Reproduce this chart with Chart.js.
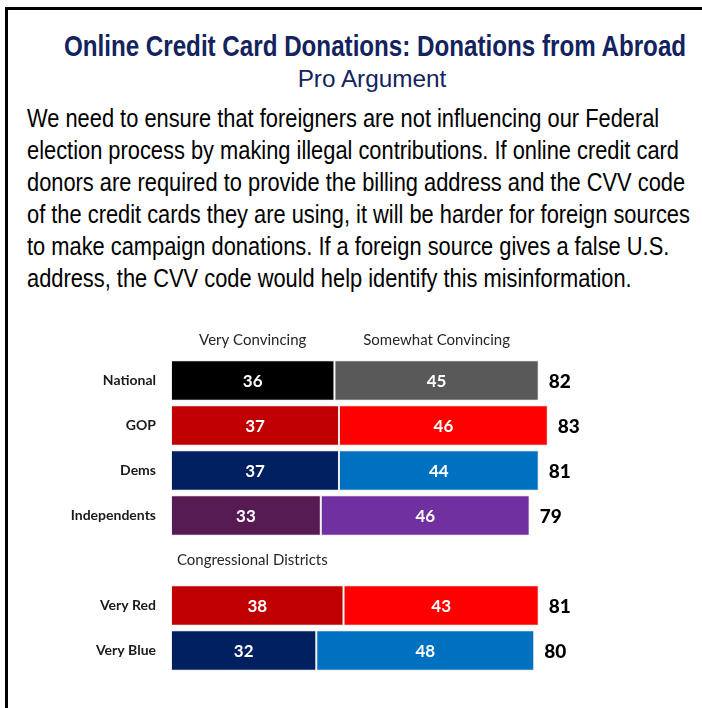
<!DOCTYPE html>
<html>
<head>
<meta charset="utf-8">
<script src="https://cdn.jsdelivr.net/npm/chart.js@4/dist/chart.umd.min.js"></script>
<style>
  html, body { margin: 0; padding: 0; background: #fff; }
  body { width: 702px; height: 708px; position: relative; overflow: hidden; }
  .frame { position: absolute; left: 5px; top: 7px; width: 720px; height: 720px;
           border-left: 3px solid #000; border-top: 3px solid #000; }
  .narrow { font-family: 'Liberation Sans', Arial, sans-serif; white-space: nowrap; display: inline-block; position: absolute; }
  .title { left: 375px; top: 29px; font-weight: bold; font-size: 30px; line-height: 34px; color: #12235f;
           transform-origin: center; }
  .sub { left: 372px; top: 65px; font-size: 24px; line-height: 28px; color: #12235f; transform-origin: center; }
  .para { left: 27px; top: 102px; font-size: 25.5px; line-height: 32px; color: #000; transform-origin: left top; }
  #wrap { position: absolute; left: 0; top: 300px; width: 702px; height: 408px; }
</style>
</head>
<body>
<div class="frame"></div>
<div class="narrow title" id="title">Online Credit Card Donations: Donations from Abroad</div>
<div class="narrow sub" id="sub">Pro Argument</div>
<div class="narrow para" id="para">We need to ensure that foreigners are not influencing our Federal<br>election process by making illegal contributions. If online credit card<br>donors are required to provide the billing address and the CVV code<br>of the credit cards they are using, it will be harder for foreign sources<br>to make campaign donations. If a foreign source gives a false U.S.<br>address, the CVV code would help identify this misinformation.</div>
<div id="wrap"><canvas id="chart" width="702" height="408"></canvas></div>
<script>
  var categories = ['National', 'GOP', 'Dems', 'Independents', '', 'Very Red', 'Very Blue'];
  var seriesLabels = ['Very Convincing', 'Somewhat Convincing'];
  var veryConvincing = [36, 37, 37, 33, null, 38, 32];
  var somewhatConvincing = [45, 46, 44, 46, null, 43, 48];
  var totals = [82, 83, 81, 79, null, 81, 80];
  var sectionLabel = 'Congressional Districts';

  var darkColors = ['#000000', '#c00000', '#002060', '#561b52', '#000000', '#c00000', '#002060'];
  var lightColors = ['#595959', '#ff0000', '#0070c0', '#7030a0', '#595959', '#ff0000', '#0070c0'];

  var FONT = 'Lato, "Open Sans", sans-serif';

  // the source uses a narrow face; squeeze the regular one to the same width
  function squeeze(id, width, centered) {
    var el = document.getElementById(id);
    var s = width / el.offsetWidth;
    el.style.transform = (centered ? 'translateX(-50%) ' : '') + 'scaleX(' + s + ')';
  }
  squeeze('title', 622, true);
  squeeze('sub', 149, true);
  squeeze('para', 663, false);

  // values inside bars, totals, column headers and the section label
  var labelsPlugin = {
    id: 'barLabels',
    afterDatasetsDraw: function(chart) {
      var ctx = chart.ctx;
      var xs = chart.scales.x, ys = chart.scales.y;
      ctx.save();
      ctx.textBaseline = 'middle';
      chart.data.datasets.forEach(function(ds, di) {
        var meta = chart.getDatasetMeta(di);
        meta.data.forEach(function(bar, i) {
          if (ds.data[i] == null) return;
          ctx.fillStyle = '#fff';
          ctx.font = 'bold 17px ' + FONT;
          ctx.textAlign = 'center';
          ctx.fillText(ds.data[i], (bar.x + bar.base) / 2, bar.y + 1);
          if (di === chart.data.datasets.length - 1 && totals[i] != null) {
            ctx.fillStyle = '#000';
            ctx.font = '900 19px ' + FONT;
            ctx.textAlign = 'left';
            ctx.fillText(totals[i], bar.x + 10, bar.y + 1);
          }
        });
        // header over the first row
        var first = meta.data[0];
        ctx.fillStyle = '#262626';
        ctx.font = '15px ' + FONT;
        ctx.textAlign = 'center';
        ctx.fillText(ds.label, (first.x + first.base) / 2, first.y - first.height / 2 - 20);
      });
      ctx.fillStyle = '#262626';
      ctx.font = '15px ' + FONT;
      ctx.textAlign = 'left';
      ctx.fillText(sectionLabel, xs.getPixelForValue(0) + 6, ys.getPixelForValue(4));
      ctx.restore();
    }
  };

  new Chart(document.getElementById('chart').getContext('2d'), {
    type: 'bar',
    data: {
      labels: categories,
      datasets: [
        { label: seriesLabels[0], data: veryConvincing, backgroundColor: darkColors,
          borderColor: 'rgba(235,235,235,0.9)', borderWidth: 1, borderSkipped: false },
        { label: seriesLabels[1], data: somewhatConvincing, backgroundColor: lightColors,
          borderColor: 'rgba(235,235,235,0.9)', borderWidth: 1, borderSkipped: false }
      ]
    },
    options: {
      indexAxis: 'y',
      responsive: false,
      animation: false,
      devicePixelRatio: 1,
      layout: { padding: { left: 0, right: 77, top: 58, bottom: 35 } },
      categoryPercentage: 1,
      barPercentage: 0.9,
      plugins: { legend: { display: false }, tooltip: { enabled: false } },
      scales: {
        x: { stacked: true, display: false, min: 0, max: 100 },
        y: {
          stacked: true,
          grid: { display: false, drawTicks: false },
          border: { display: false },
          ticks: { color: '#1a1a1a', padding: 15, font: { family: FONT, weight: 'bold', size: 14 } },
          afterFit: function(scale) { scale.width = 171; }
        }
      }
    },
    plugins: [labelsPlugin]
  });
</script>
</body>
</html>
